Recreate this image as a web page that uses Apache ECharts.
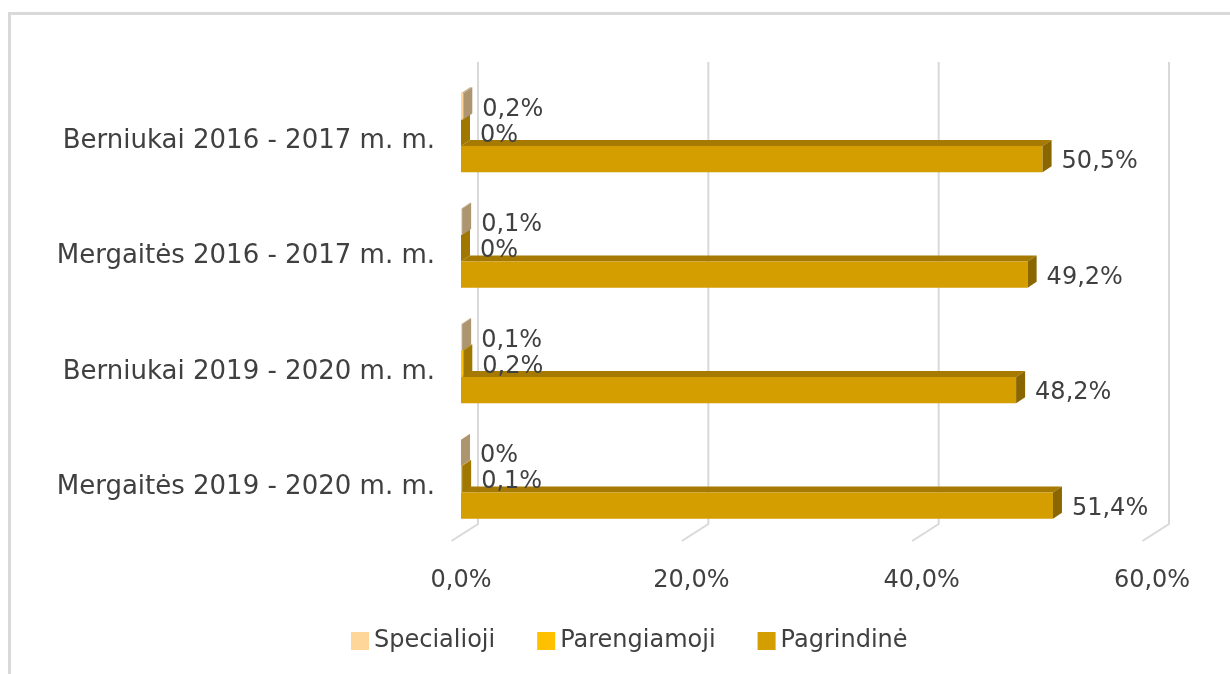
<!DOCTYPE html>
<html>
<head>
<meta charset="utf-8">
<script src="https://cdn.jsdelivr.net/npm/echarts@6/dist/echarts.min.js"></script>
<style>
  html, body { margin: 0; padding: 0; background: #fff; }
  #chart { width: 1230px; height: 674px; }
</style>
</head>
<body>
<div id="chart"></div>
<script>
// duomenys
var categories = [
  'Berniukai 2016 - 2017 m. m.',
  'Mergaitės 2016 - 2017 m. m.',
  'Berniukai 2019 - 2020 m. m.',
  'Mergaitės 2019 - 2020 m. m.'
];
var seriesNames = ['Specialioji', 'Parengiamoji', 'Pagrindinė'];
var specialioji = [0.2, 0.1, 0.1, 0];
var parengiamoji = [0, 0, 0.2, 0.1];
var pagrindine = [50.5, 49.2, 48.2, 51.4];
var xTicks = [0, 20, 40, 60];

var FONT = '"DejaVu Sans", sans-serif';
var TXT = '#404040';

// spalvos: priekis, viršus, šonas
var faces = [
  { front: '#FFD699', top: '#C9AE84', side: '#AD9570' },
  { front: '#FFC000', top: '#B38700', side: '#A07800' },
  { front: '#D49D00', top: '#A67A00', side: '#8A6600' }
];

var DX = 9, DY = 6;          // stulpelio gylis
var BACK = [17, -11];        // galinė siena
var FLOOR = [-9.5, 6];       // grindų priekis

function fmt(v) {
  if (v === 0) return '0%';
  return v.toFixed(1).replace('.', ',') + '%';
}

function barRender(idx) {
  return function (params, api) {
    var cat = api.value(1);
    var val = api.value(0);
    var p0 = api.coord([0, cat]);
    var p1 = api.coord([val, cat]);
    var band = api.size([0, 1])[1];
    var groupW = band * (1 - 0.316);
    var h = groupW / 3;
    var y = p0[1] - groupW / 2 + idx * h + 2;
    var x0 = p0[0], x1 = p1[0];
    var c = faces[idx];
    return {
      type: 'group',
      children: [
        { type: 'polygon', shape: { points: [[x0, y], [x1, y], [x1 + DX, y - DY], [x0 + DX, y - DY]] },
          style: { fill: c.top } },
        { type: 'rect', shape: { x: x0, y: y, width: x1 - x0, height: h },
          style: { fill: c.front } },
        { type: 'polygon', shape: { points: [[x1, y], [x1 + DX, y - DY], [x1 + DX, y + h - DY], [x1, y + h]] },
          style: { fill: c.side } },
        { type: 'text', z2: 50,
          style: { text: fmt(val), x: x1 + DX + 10, y: y + h / 2 + 3, fill: TXT,
            font: '24px ' + FONT, verticalAlign: 'middle', align: 'left' } }
      ]
    };
  };
}

function gridRender(params, api) {
  var cs = params.coordSys;
  var x = api.coord([api.value(0), 0])[0];
  var topY = cs.y + BACK[1];
  var botY = cs.y + cs.height + BACK[1];
  return {
    type: 'polyline',
    shape: { points: [[x + BACK[0], topY], [x + BACK[0], botY], [x + FLOOR[0], cs.y + cs.height + FLOOR[1]]] },
    style: { stroke: '#D9D9D9', lineWidth: 2, fill: null }
  };
}

function toData(arr) {
  return arr.map(function (v, i) { return [v, i]; });
}

var chart = echarts.init(document.getElementById('chart'));
var option = {
  backgroundColor: '#fff',
  animation: false,
  textStyle: { fontFamily: FONT },
  graphic: [{
    type: 'rect', silent: true,
    shape: { x: 9.5, y: 13.5, width: 1300, height: 700 },
    style: { fill: null, stroke: '#D9D9D9', lineWidth: 3 }
  }],
  grid: { left: 461, right: 78, top: 73, bottom: 139, containLabel: false },
  legend: {
    data: seriesNames,
    left: 346, top: 624,
    itemWidth: 18, itemHeight: 18, itemGap: 42,
    icon: 'rect',
    textStyle: { fontSize: 24, color: TXT, fontFamily: FONT }
  },
  xAxis: {
    type: 'value', min: 0, max: 60, interval: 20,
    axisLine: { show: false }, axisTick: { show: false }, splitLine: { show: false },
    axisLabel: { margin: 34, fontSize: 24, color: TXT, fontFamily: FONT,
      formatter: function (v) { return v.toFixed(1).replace('.', ',') + '%'; } }
  },
  yAxis: {
    type: 'category', data: categories, inverse: true,
    axisLine: { show: false }, axisTick: { show: false },
    axisLabel: { margin: 26, color: TXT, fontFamily: FONT,
      formatter: function (v) { return '{a|' + v + '}'; },
      rich: { a: { fontSize: 26, color: TXT, fontFamily: FONT, padding: [20, 0, 0, 0] } } }
  },
  series: [
    { name: 'grid', type: 'custom', renderItem: gridRender, data: toData(xTicks), z: 1, silent: true },
    { name: seriesNames[0], type: 'custom', renderItem: barRender(0), data: toData(specialioji), z: 5,
      itemStyle: { color: faces[0].front }, encode: { x: 0, y: 1 } },
    { name: seriesNames[1], type: 'custom', renderItem: barRender(1), data: toData(parengiamoji), z: 4,
      itemStyle: { color: faces[1].front }, encode: { x: 0, y: 1 } },
    { name: seriesNames[2], type: 'custom', renderItem: barRender(2), data: toData(pagrindine), z: 3,
      itemStyle: { color: faces[2].front }, encode: { x: 0, y: 1 } }
  ]
};
chart.setOption(option);
</script>
</body>
</html>
